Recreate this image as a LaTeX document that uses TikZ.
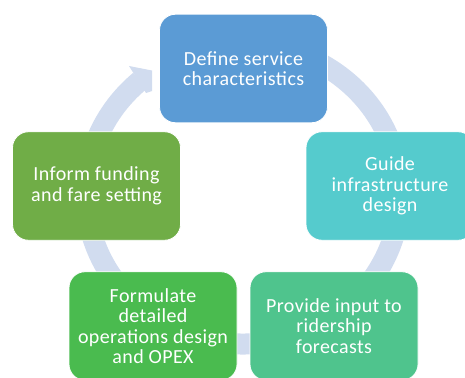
\documentclass[tikz,border=0pt]{standalone}
\usepackage{fontspec}
\setmainfont[LetterSpace=2]{Carlito}
\usetikzlibrary{positioning}
\definecolor{ringc}{HTML}{D1DCEF}
\definecolor{cdefine}{HTML}{5B9BD5}
\definecolor{cguide}{HTML}{55CBCD}
\definecolor{cinput}{HTML}{4FC48D}
\definecolor{cops}{HTML}{4ABB4F}
\definecolor{cfund}{HTML}{70AD47}
\tikzset{
  stage/.style={rounded corners=16pt,draw=white,line width=0.8pt,text=white,
    minimum width=168pt,minimum height=108.5pt,align=center,inner sep=2pt,
    font=\fontsize{20}{20.5}\selectfont},
  ring/.style={ringc,line width=21pt},
}

\begin{document}
\begin{tikzpicture}[x=1pt,y=1pt,yscale=-1]
  \useasboundingbox (0,0) rectangle (465,377);
  % cycle ring, behind the stages
  \coordinate (hub) at (243,194);
  \draw[ring] (hub) ++(-100:157 and 150)
    arc[start angle=-100,end angle=229,x radius=157,y radius=150];
  % arrow head into the first stage
  \fill[ringc] (129,66) -- (152,70.5) -- (152,91) -- (146,93) -- cycle;
  % the five stages
  \node[stage,fill=cdefine] (define) at (243.5,68.5) {Define service\\characteristics};
  \node[stage,fill=cguide] (guide) at (390,186) {Guide\\infrastructure\\design};
  \node[stage,fill=cinput] (input) at (334,326) {Provide input to\\ridership\\forecasts};
  \node[stage,fill=cops] (ops) at (153,326) {Formulate\\detailed\\operations design\\and OPEX};
  \node[stage,fill=cfund] (fund) at (96.5,186) {Inform funding\\and fare setting};
\end{tikzpicture}
\end{document}
